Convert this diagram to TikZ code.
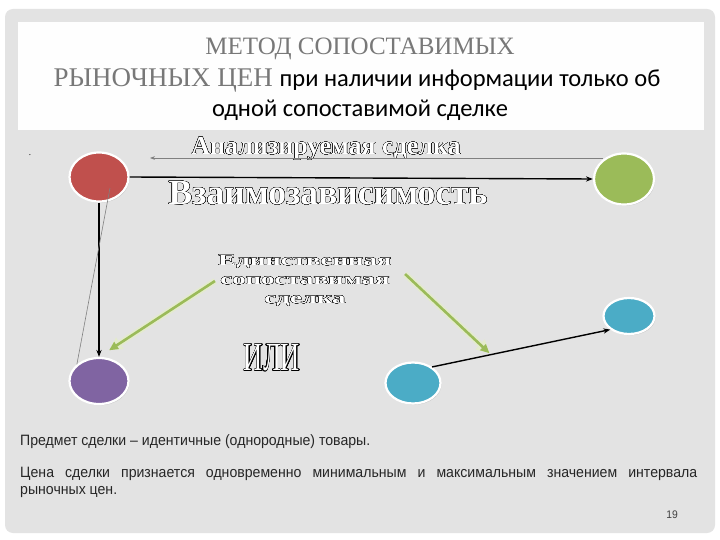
\documentclass[tikz,border=0pt]{standalone}
\usepackage{fontspec}
\usepackage[copies]{contour}
\usetikzlibrary{shapes.geometric,arrows.meta,shadows,positioning}

\setmainfont{Liberation Serif}
\newfontfamily\calibri{Carlito}
\newfontfamily\arialn[FakeStretch=0.94]{Liberation Sans}
\newfontfamily\wideserif[FakeStretch=1.68]{Liberation Serif}
\newfontfamily\tallserif[FakeStretch=0.66]{Liberation Serif}

\definecolor{slidegrey}{RGB}{227,227,227}
\definecolor{titlegrey}{RGB}{120,120,120}
\definecolor{cred}{RGB}{192,80,77}
\definecolor{cgreen}{RGB}{155,187,89}
\definecolor{cviolet}{RGB}{128,100,162}
\definecolor{cblue}{RGB}{75,172,198}
\definecolor{palegreen}{RGB}{228,235,205}

\contourlength{0.25pt}
\contournumber{20}
\newcommand{\outl}[1]{{\color{white}\contour{black}{#1}}}

\tikzset{
  partycirc/.style={ellipse, draw=white, line width=2.2pt, inner sep=0pt,
    drop shadow={opacity=0.3, shadow xshift=1pt, shadow yshift=-1.2pt}},
  greenarrow/.style={draw=cgreen, line width=2.6pt, -{Triangle[length=9pt,width=8pt]},
    preaction={draw=palegreen, line width=6pt, -{Triangle[length=13pt,width=13pt]}}},
}

\begin{document}
\begin{tikzpicture}[x=1pt,y=-1pt]
\useasboundingbox (0,0) rectangle (720,540);
\fill[white] (0,0) rectangle (720,540);
\fill[slidegrey, rounded corners=8pt] (5,9) rectangle (715,533);
\fill[white!96!slidegrey] (18,22) rectangle (704,130);

% title
\node[anchor=base, font=\fontsize{25}{25}\selectfont, text=titlegrey] (t1) at (360,55) {МЕТОД СОПОСТАВИМЫХ};
\node[anchor=base] (t2) at (357,87) {\fontsize{27}{27}\selectfont\color{titlegrey}РЫНОЧНЫХ ЦЕН \calibri\fontsize{24.5}{24.5}\selectfont\color{black}при наличии информации только об};
\node[anchor=base, font=\calibri\fontsize{24.5}{24.5}\selectfont] (t3) at (360,117) {одной сопоставимой сделке};
\node[font=\small] (pt) at (30,155) {.};

% parties
\node[partycirc, fill=cred, minimum width=59pt, minimum height=49pt] (partA) at (99,177) {};
\node[partycirc, fill=cgreen, minimum width=60pt, minimum height=51pt] (partB) at (624,179) {};
\node[partycirc, fill=cviolet, minimum width=59pt, minimum height=46pt] (compA) at (99,381) {};
\node[partycirc, fill=cblue, minimum width=55pt, minimum height=41pt] (compB) at (413,383) {};
\node[partycirc, fill=cblue, minimum width=51pt, minimum height=36pt] (compC) at (629,316) {};

% labels
\node[font=\bfseries\fontsize{26}{26}\selectfont] (lbl1) at (326,149) {\outl{Анализируемая сделка}};
\node[font=\bfseries\fontsize{35.5}{35.5}\selectfont] (lbl2) at (328,193) {\outl{Взаимозависимость}};
\node[font=\wideserif\bfseries\fontsize{16}{19}\selectfont, align=center] (single) at (305,281)
  {\outl{Единственная}\\\outl{сопоставимая}\\\outl{сделка}};
\node[font=\tallserif\fontsize{40}{40}\selectfont] (ili) at (272,358) {\outl{ИЛИ}};

% links
\coordinate (gl) at (150,158);
\draw[gray, line width=0.8pt, {Stealth[length=5pt]}-, shorten >=-10pt] (gl) -- (gl -| partB.west);
\draw[line width=1.4pt, -{Stealth[length=7pt]}] (partA.east) -- (partB.west);
\draw[line width=1.4pt, -{Stealth[length=7pt]}] (partA.south) -- (compA.north);
\draw[gray, line width=0.6pt] ([shift={(11,11)}]partA.center) -- (compA.143);
\draw[line width=1.4pt, -{Stealth[length=7pt]}] (compB.40) -- coordinate[pos=0.33] (hit) (compC.216);
\draw[greenarrow, shorten >=12pt] (single.west) -- (compA.north);
\draw[greenarrow, shorten >=2pt] ([shift={(10,-7)}]single.east) -- (hit);

% notes
\node[anchor=base west, inner sep=0pt, text=black!85, font=\arialn\fontsize{15}{15}\selectfont] (n1) at (20,445) {Предмет сделки – идентичные (однородные) товары.};
\node[anchor=north west, text width=677pt, align=justify, inner sep=0pt, text=black!85, font=\arialn\fontsize{15}{17}\selectfont] (n2) at (20,467)
  {Цена сделки признается одновременно минимальным и максимальным значением интервала\linebreak рыночных цен.};
\node[font=\arialn\fontsize{11}{11}\selectfont, text=black!75] (pg) at (672,515) {19};
\end{tikzpicture}
\end{document}
